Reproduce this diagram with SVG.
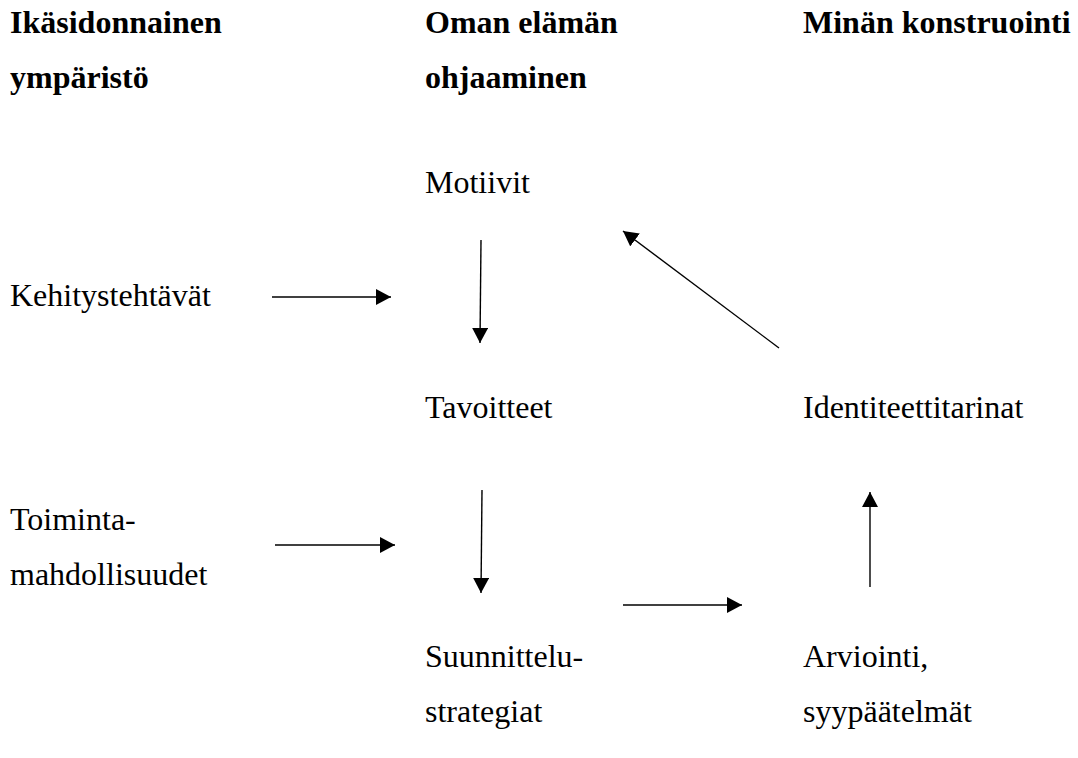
<svg xmlns="http://www.w3.org/2000/svg" width="1078" height="758" viewBox="0 0 1078 758">
<defs>
<style>
text{font-family:"Liberation Serif","Times New Roman",serif;font-size:32px;fill:#000}
.h{font-weight:bold}
.c{stroke:#000;stroke-width:1.4;fill:none;marker-end:url(#ah)}
</style>
<marker id="ah" markerUnits="userSpaceOnUse" markerWidth="16" markerHeight="17" refX="15" refY="8" orient="auto">
<path d="M0,0 L15,8 L0,16 z" fill="#000"/>
</marker>
</defs>
<rect width="1078" height="758" fill="#fff"/>
<g id="headers">
<text class="h" x="10" y="33">Ikäsidonnainen</text>
<text class="h" x="10" y="88">ympäristö</text>
<text class="h" x="425" y="33">Oman elämän</text>
<text class="h" x="425" y="88">ohjaaminen</text>
<text class="h" x="803" y="33">Minän konstruointi</text>
</g>
<g id="motiivit"><text x="425" y="193">Motiivit</text></g>
<g id="kehitystehtavat"><text x="10" y="306">Kehitystehtävät</text></g>
<g id="tavoitteet"><text x="425" y="418">Tavoitteet</text></g>
<g id="identiteettitarinat"><text x="803" y="418">Identiteettitarinat</text></g>
<g id="toimintamahdollisuudet"><text x="10" y="530">Toiminta-</text><text x="10" y="585">mahdollisuudet</text></g>
<g id="suunnittelustrategiat"><text x="425" y="667">Suunnittelu-</text><text x="425" y="722">strategiat</text></g>
<g id="arviointi"><text x="803" y="667">Arviointi,</text><text x="803" y="722">syypäätelmät</text></g>
<g id="connectors">
<line class="c" x1="272" y1="297" x2="391" y2="297"/>
<line class="c" x1="481" y1="240" x2="480" y2="343"/>
<line class="c" x1="779" y1="348" x2="623" y2="231"/>
<line class="c" x1="275" y1="545" x2="395" y2="545"/>
<line class="c" x1="482" y1="490" x2="481" y2="593"/>
<line class="c" x1="870" y1="587" x2="870" y2="492"/>
<line class="c" x1="623" y1="605" x2="742" y2="605"/>
</g>
</svg>
